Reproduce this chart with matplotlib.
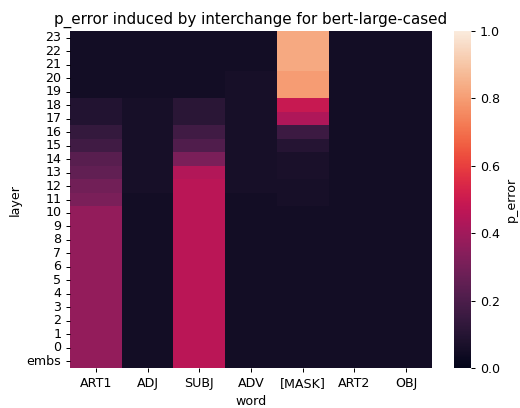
import numpy as np
import pandas as pd
import matplotlib
matplotlib.use("Agg")
import matplotlib.pyplot as plt
import seaborn as sns

words = ["ART1", "ADJ", "SUBJ", "ADV", "[MASK]", "ART2", "OBJ"]
layers = [str(i) for i in range(23, -1, -1)] + ["embs"]

# p_error per layer (top row = layer 23, bottom row = embeddings)
art1 = [0.05, 0.05, 0.05, 0.05, 0.05, 0.09, 0.09, 0.14, 0.17, 0.23, 0.25, 0.29,
        0.31, 0.37, 0.37, 0.37, 0.37, 0.37, 0.37, 0.37, 0.37, 0.37, 0.37, 0.37, 0.37]
adj = [0.05, 0.05, 0.05, 0.05, 0.05, 0.06, 0.06, 0.06, 0.06, 0.06, 0.06, 0.06,
       0.05, 0.05, 0.05, 0.05, 0.05, 0.05, 0.05, 0.05, 0.05, 0.05, 0.05, 0.05, 0.05]
subj = [0.05, 0.05, 0.05, 0.05, 0.05, 0.11, 0.11, 0.17, 0.21, 0.31, 0.44, 0.46,
        0.46, 0.46, 0.46, 0.46, 0.46, 0.46, 0.46, 0.46, 0.46, 0.46, 0.46, 0.46, 0.46]
adv = [0.05, 0.05, 0.05, 0.06, 0.06, 0.06, 0.06, 0.06, 0.06, 0.06, 0.06, 0.06,
       0.05, 0.05, 0.05, 0.05, 0.05, 0.05, 0.05, 0.05, 0.05, 0.05, 0.05, 0.05, 0.05]
mask = [0.83, 0.83, 0.83, 0.80, 0.80, 0.49, 0.43, 0.16, 0.10, 0.07, 0.07, 0.06,
        0.06, 0.05, 0.05, 0.05, 0.05, 0.05, 0.05, 0.05, 0.05, 0.05, 0.05, 0.05, 0.05]
art2 = [0.05] * 25
obj = [0.05] * 25

df = pd.DataFrame({"ART1": art1, "ADJ": adj, "SUBJ": subj, "ADV": adv,
                   "[MASK]": mask, "ART2": art2, "OBJ": obj}, index=layers)
df = df[words]
df.index.name = "layer"
df.columns.name = "word"

DPI = 91
W, H = 520, 408
fig = plt.figure(figsize=(W / DPI, H / DPI), dpi=DPI)
ax = fig.add_axes([70 / W, 1 - 368 / H, 362 / W, 337 / H])
cax = fig.add_axes([454 / W, 1 - 368 / H, 17 / W, 337 / H])
sns.heatmap(df, ax=ax, cbar_ax=cax, cmap="rocket", vmin=0, vmax=1,
            yticklabels=layers, cbar_kws={"label": "p_error"})
ax.set_yticklabels(layers, rotation=0)
ax.set_title("p_error induced by interchange for bert-large-cased")
fig.savefig("out.png", dpi=DPI)
